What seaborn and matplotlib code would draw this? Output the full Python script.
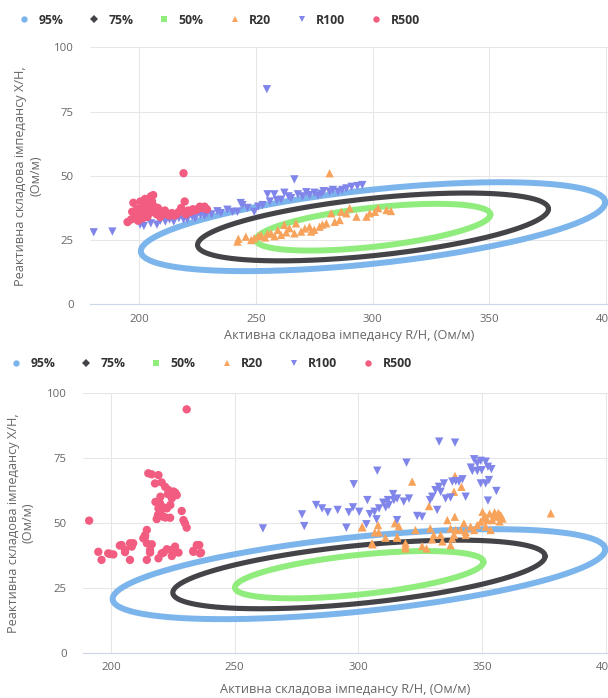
import numpy as np
import pandas as pd
import matplotlib
matplotlib.use("Agg")
import matplotlib.pyplot as plt
import seaborn as sns
from matplotlib.lines import Line2D

sns.set_theme(style="white")
plt.rcParams["font.family"] = ["Open Sans", "DejaVu Sans"]

# ---------------- data ----------------
LEVELS = ["95%", "75%", "50%"]
ELL_COLORS = ["#7cb5ec", "#434348", "#90ed7d"]
ELL_MARKERS = ["o", "D", "s"]
ELL_CX = [300.2, 300.2, 300.3]
ELL_CY = [30.2, 30.1, 30.0]
ELL_HALF_X = [99.5, 75.2, 50.2]
ELL_HALF_Y = [17.3, 13.2, 9.1]
ELL_CORR = [0.55, 0.53, 0.54]

SERIES = ["R20", "R100", "R500"]
SER_COLORS = ["#f7a35c", "#8085e9", "#f15c80"]
SER_MARKERS = ["^", "v", "o"]

X_TICKS = [200, 250, 300, 350, 400]
Y_TICKS = [0, 25, 50, 75, 100]
X_LABEL = "Активна складова імпедансу R/H, (Ом/м)"
Y_LABEL = "Реактивна складова імпедансу X/H,\n(Ом/м)"

# top chart
top_r20_x = [242.1, 242.5, 245.7, 248, 249.3, 251, 252.2, 254, 255, 256.5, 258, 259.4, 260.8, 262.2, 263,
             264.4, 266.5, 267.2, 269.4, 271, 273, 273.7, 275, 277.3, 278.5, 280.2, 281.6, 282.3, 283.8,
             285.9, 286.6, 288.8, 290.2, 293.1, 297.4, 298.8, 301, 302.4, 306, 307.9]
top_r20_y = [24.4, 25.5, 26.3, 25, 25.7, 26.5, 27, 26, 27.5, 27.6, 26.5, 28.9, 27, 30.9, 28,
             29.6, 27.6, 31.5, 28.3, 29.5, 30.2, 28.3, 29, 30.2, 31, 31.5, 51, 35.4, 32.1,
             32.8, 36, 35.4, 37.4, 34.1, 34.1, 35.4, 36, 37.4, 36.7, 36.3]
top_r100_x = [180.5, 188.5, 200.4, 202, 205, 207.6, 209, 211.2, 213, 214.8, 217, 219, 220.6, 222.7, 224,
              226.3, 228, 229.2, 231, 233.5, 235, 237.8, 240, 242.1, 243.5, 244.3, 246.4, 249.3, 251,
              252.9, 255, 256, 257.9, 259, 260.8, 262.2, 264, 265.1, 266.5, 268, 270, 271.6, 273,
              275.1, 276.6, 278, 279, 281.6, 283, 285.2, 287, 288.8, 291, 293.5, 295.6, 254.7]
top_r100_y = [28, 28.3, 31, 30.5, 31.5, 31, 32.5, 32.2, 33, 32.2, 33.5, 33, 33, 34.2, 33.5,
              34.8, 34.5, 35.5, 35, 36.2, 35.5, 36.8, 36, 36, 39.4, 38.6, 37.5, 36, 38,
              38.6, 42.8, 40, 42.8, 40.5, 40.7, 43.4, 42, 41.3, 48.6, 42.8, 42, 43.6, 42.5,
              43.4, 42.3, 43, 44, 43.8, 44.5, 43.8, 44.5, 45.1, 45.7, 46, 46.4, 83.7]
top_r500_x = [195, 196.5, 197, 197.5, 198, 199, 199.5, 200, 200.5, 201, 201.5, 202, 202.5, 203, 203.5,
              204, 204.5, 205, 205.5, 206, 206.5, 207, 207.5, 208, 209, 209.5, 210, 211, 212, 213,
              214, 215, 216, 217, 218, 219, 219.5, 220, 221, 222, 223, 224, 225, 226, 227, 228, 229, 219]
top_r500_y = [32, 33, 36, 39.5, 34, 37, 32.5, 35, 40, 38, 33.5, 36.5, 41, 39, 34,
              37, 35.5, 42, 40, 42.5, 38, 36, 35, 37.5, 34, 36, 35, 36.5, 35, 34.5,
              35.5, 34.5, 35, 36, 37.5, 36, 40, 35, 36.5, 36, 37, 36.5, 37, 38, 37.5, 38, 37, 51]

# bottom chart
bot_r20_x = [301.5, 301.5, 305.5, 305.7, 306.6, 307.9, 308.2, 310.9, 314.7, 315.6, 315.6, 316.3, 319, 319,
             319, 321.7, 323, 325.7, 327.5, 328.5, 329, 329.8, 330.4, 333.2, 333.9, 335.9, 337.2, 337.2,
             337.9, 338.6, 338.6, 338.9, 339, 339.3, 341.3, 341.6, 342.6, 343.3, 343.3, 345.3, 346.7,
             348, 349.4, 350.1, 351.4, 351.4, 352, 353.4, 354.1, 354.8, 356.1, 357.5, 358.2, 377.7,
             353, 355, 356.5, 350.5, 357]
bot_r20_y = [48.2, 48.5, 42.1, 41.7, 46.3, 49.1, 46.3, 44.2, 49.8, 44.2, 44.6, 48.7, 41, 42.1,
             40.1, 65.8, 47.2, 41, 40.1, 56.4, 47.8, 43.6, 45.3, 45.3, 42.8, 51, 47.8, 41.4,
             44, 61.9, 45.3, 52.3, 68, 47.2, 47.2, 63.8, 49.8, 46.5, 45.3, 48.5, 47.2,
             49.1, 50.4, 54.2, 52.3, 48.5, 51, 47.2, 51, 52.9, 52.3, 52.9, 51.6, 53.6,
             53.5, 54, 53.8, 51.8, 50.5]
bot_r100_x = [261.4, 277.2, 278.1, 282.9, 285.3, 287.6, 291.6, 295.1, 296.1, 297.8, 298.1, 300.3, 303.2,
              303.6, 304.6, 306.5, 307.3, 307.6, 308.3, 310, 311, 311.9, 312.3, 314, 314.3, 315.6,
              315.6, 318.3, 319.4, 320.4, 323.7, 325.7, 328.9, 329.8, 331.1, 331.8, 332.5, 332.6,
              333.2, 334.5, 335.2, 337.2, 337.9, 339, 339.3, 340.6, 342, 343.3, 345.4, 346, 346.7,
              348, 348, 349.4, 349.8, 349.4, 351.4, 351.4, 352.3, 352.3, 352.7, 353.7, 355.7]
bot_r100_y = [47.8, 53.2, 48.7, 56.8, 55.5, 54, 54.9, 48.1, 54, 55.9, 64.8, 54.2, 49.4,
              58.7, 53.3, 54.2, 51.3, 70, 55.5, 57.7, 55.9, 58.7, 56.8, 61, 58.7, 59.3,
              51, 58.1, 73.1, 59.3, 52.6, 52.3, 58.7, 60, 62.5, 54.9, 63.8, 81.2,
              61.9, 65.1, 59.3, 59.7, 65.8, 80.8, 66, 65.8, 66.7, 60, 71.2, 69.9, 74.4,
              72.8, 69.9, 73.8, 70.2, 65.1, 73.5, 65.1, 71.5, 58.5, 66.4, 70.6, 62.2]
bot_r500_x = [191.2, 194.9, 196.2, 198.9, 199.6, 201, 203.6, 204.3, 205.7, 205.7, 207.7, 207.7, 208.4,
              209, 213.1, 213.8, 213.8, 214.5, 214.5, 214.5, 215.1, 215.8, 215.8, 216.5, 216.5, 217.8,
              218.5, 219.2, 219.2, 219.2, 219.8, 220.5, 220.5, 221.2, 221.3, 221.9, 222.6, 222.6,
              223.2, 223.9, 224, 224.6, 224.6, 224.6, 225.3, 225.9, 226.6, 227.3, 228.6, 229.3, 229.9,
              230.6, 230.6, 233.3, 233.3, 234.7, 235.7, 236, 236.4,
              218, 220, 223, 226, 221, 219, 222, 220]
bot_r500_y = [50.8, 38.8, 35.7, 38.2, 38, 37.8, 41.2, 41.4, 39.6, 38.7, 42.1, 35.7, 40.8,
              42.1, 44, 45.2, 44.6, 47.2, 42.1, 35.7, 69, 39.5, 38.5, 68.6, 41.7, 65.1,
              51.4, 68.3, 55.5, 36.3, 57.5, 65.5, 38.2, 52.3, 38.5, 63.8, 55.5, 39.8,
              62.6, 51.9, 56.8, 59.4, 39.5, 37.2, 62, 40.8, 60.6, 38.5, 54.5, 51, 49.8,
              48.1, 93.6, 38.8, 39.2, 41.4, 41.4, 38.2, 38.5,
              58, 60, 61, 61.5, 56, 53, 52, 54]

CHARTS = [
    dict(box=(89.5, 47.3, 608, 304.3), xlim=(178.7, 400.9),
         r20=(top_r20_x, top_r20_y), r100=(top_r100_x, top_r100_y), r500=(top_r500_x, top_r500_y),
         legend_xy=(19.2, 20), xlabel_y=336, ylabel_x=28),
    dict(box=(82.7, 392.7, 608, 652.7), xlim=(188.6, 400.8),
         r20=(bot_r20_x, bot_r20_y), r100=(bot_r100_x, bot_r100_y), r500=(bot_r500_x, bot_r500_y),
         legend_xy=(11.2, 364), xlabel_y=690, ylabel_x=21),
]

# ---------------- figure ----------------
FW, FH, DPI = 608, 698, 100
fig = plt.figure(figsize=(FW / DPI, FH / DPI), dpi=DPI)
fig.patch.set_facecolor("white")

TICK_COLOR = "#666666"
t = np.linspace(0, 2 * np.pi, 400)

for ch in CHARTS:
    l, tp, r, b = ch["box"]
    ax = fig.add_axes([l / FW, 1 - b / FH, (r - l) / FW, (b - tp) / FH])
    ax.set_facecolor("white")

    # confidence ellipses
    for i, lev in enumerate(LEVELS):
        ex = ELL_CX[i] + ELL_HALF_X[i] * np.cos(t)
        ey = ELL_CY[i] + ELL_HALF_Y[i] * (ELL_CORR[i] * np.cos(t) + np.sqrt(1 - ELL_CORR[i] ** 2) * np.sin(t))
        lw = 3.7 if i == 1 else 4.3
        ax.plot(ex, ey, color=ELL_COLORS[i], lw=lw, zorder=2 + i, solid_joinstyle="round")

    frames = []
    for name, key in zip(SERIES, ["r20", "r100", "r500"]):
        xs, ys = ch[key]
        frames.append(pd.DataFrame({"x": xs, "y": ys, "series": name}))
    df = pd.concat(frames, ignore_index=True)
    sns.scatterplot(data=df, x="x", y="y", hue="series", style="series",
                    palette=dict(zip(SERIES, SER_COLORS)),
                    markers=dict(zip(SERIES, SER_MARKERS)),
                    s=36, linewidth=0, legend=False, ax=ax, zorder=6)

    ax.set_xlim(*ch["xlim"])
    ax.set_ylim(0, 100)
    ax.set_xticks(X_TICKS)
    ax.set_yticks(Y_TICKS)
    ax.grid(True, color="#e6e6e6", lw=0.75, zorder=0)
    ax.set_axisbelow(True)
    for s in ["top", "right", "left"]:
        ax.spines[s].set_visible(False)
    ax.spines["bottom"].set_color("#ccd6eb")
    ax.spines["bottom"].set_linewidth(0.8)
    ax.tick_params(axis="both", length=0, labelsize=8.2, labelcolor=TICK_COLOR)
    ax.tick_params(axis="y", pad=11.5)
    ax.tick_params(axis="x", pad=7)
    ax.set_xlabel("")
    ax.set_ylabel("")

    # axis titles
    fig.text(((l + r) / 2) / FW, 1 - ch["xlabel_y"] / FH, X_LABEL, ha="center", va="center",
             fontsize=9.2, color=TICK_COLOR)
    fig.text(ch["ylabel_x"] / FW, 1 - ((tp + b) / 2) / FH, Y_LABEL, ha="center", va="center",
             rotation=90, fontsize=9.2, color=TICK_COLOR, multialignment="center", linespacing=1.2)

    # legend
    handles = []
    labels = LEVELS + SERIES
    for c, m in zip(ELL_COLORS + SER_COLORS, ELL_MARKERS + SER_MARKERS):
        ms = 3.6 if m == "D" else 4.6
        handles.append(Line2D([], [], marker=m, color=c, linestyle="none", markersize=ms, markeredgewidth=0))
    lx, ly = ch["legend_xy"]
    fig.legend(handles, labels, loc="center left", bbox_to_anchor=(lx / FW, 1 - ly / FH),
               ncol=6, frameon=False, handlelength=0.8, handletextpad=0.75, columnspacing=2.15,
               borderpad=0, borderaxespad=0,
               prop={"weight": "bold", "size": 8.8}, labelcolor="#333333")

fig.savefig("out.png", dpi=DPI, facecolor="white")
